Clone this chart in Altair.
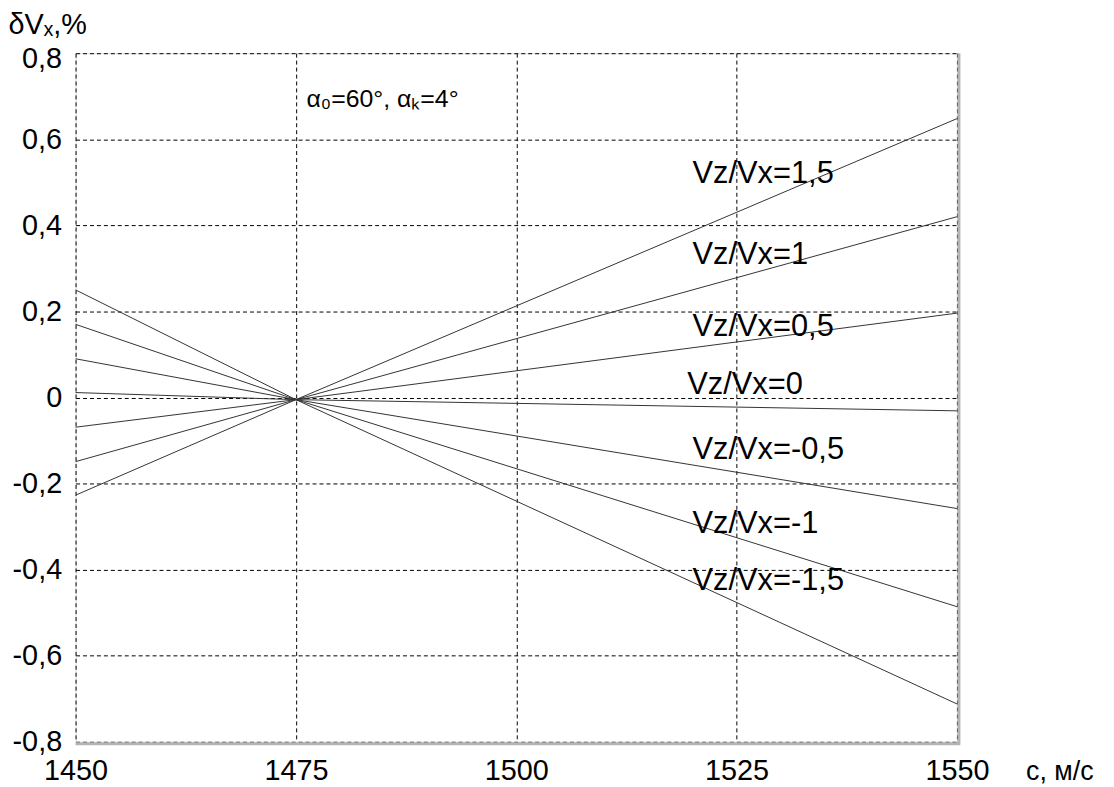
import altair as alt
import pandas as pd

ratios = [-1.5, -1, -0.5, 0, 0.5, 1, 1.5]
c_points = [1450, 1475, 1550]
v_1450 = [0.250, 0.170, 0.090, 0.0115, -0.069, -0.149, -0.227]
v_1475 = [-0.005, -0.005, -0.005, -0.005, -0.005, -0.005, -0.005]
v_1550 = [-0.712, -0.486, -0.258, -0.031, 0.196, 0.420, 0.648]

label_texts = ["Vz/Vx=-1,5", "Vz/Vx=-1", "Vz/Vx=-0,5", "Vz/Vx=0", "Vz/Vx=0,5", "Vz/Vx=1", "Vz/Vx=1,5"]
label_c = [1520.0, 1520.0, 1520.0, 1519.4, 1520.0, 1520.0, 1520.0]
label_v = [-0.426, -0.294, -0.121, 0.029, 0.163, 0.330, 0.519]

rows = []
for i, r in enumerate(ratios):
    for c, v in zip(c_points, [v_1450[i], v_1475[i], v_1550[i]]):
        rows.append({"ratio": r, "c": c, "v": v})
lines_df = pd.DataFrame(rows)
labels_df = pd.DataFrame({"text": label_texts, "c": label_c, "v": label_v})
note_df = pd.DataFrame({"text": ["α₀=60°, αₖ=4°"], "c": [1476.2], "v": [0.694]})

W, H = 887, 693
FONT = "Liberation Sans"
FS = 29

xscale = alt.Scale(domain=[1450, 1550], nice=False, zero=False)
yscale = alt.Scale(domain=[-0.8, 0.8], nice=False)

lines = alt.Chart(lines_df).mark_line(color="#333333", strokeWidth=1).encode(
    x=alt.X("c:Q", scale=xscale,
            axis=alt.Axis(values=[1450, 1475, 1500, 1525, 1550], format="d", title="c, м/с",
                          grid=True, gridColor="black", gridDash=[4, 3], gridWidth=1,
                          ticks=False, domain=False, labelFontSize=FS, labelFont=FONT,
                          labelColor="black", labelPadding=15, labelFlush=False,
                          titleFontSize=27, titleFont=FONT, titleFontWeight="normal",
                          titleColor="black", titleX=990, titleY=30, titleAlign="center",
                          titleBaseline="middle")),
    y=alt.Y("v:Q", scale=yscale,
            axis=alt.Axis(values=[-0.8, -0.6, -0.4, -0.2, 0, 0.2, 0.4, 0.6, 0.8],
                          labelExpr="datum.value == 0 ? '0' : replace(replace(format(datum.value, '.1f'), '.', ','), '\u2212', '-')",
                          title="δVₓ,%", grid=True, gridColor="black", gridDash=[4, 3],
                          gridWidth=1, ticks=False, domain=False, labelFontSize=FS,
                          labelFont=FONT, labelColor="black", labelPadding=14,
                          labelFlush=False,
                          labelOffset={"condition": {"test": "datum.value > 0.79", "value": 5}, "value": 0},
                          titleFontSize=FS, titleFont=FONT, titleFontWeight="normal",
                          titleColor="black", titleAngle=0, titleX=-68, titleY=-29,
                          titleAlign="left", titleBaseline="middle")),
    detail="ratio:N",
)

labels = alt.Chart(labels_df).mark_text(align="left", baseline="middle", fontSize=31,
                                         font=FONT, color="black").encode(
    x=alt.X("c:Q", scale=xscale), y=alt.Y("v:Q", scale=yscale), text="text:N")

note = alt.Chart(note_df).mark_text(align="left", baseline="middle", fontSize=25,
                                     font=FONT, color="black").encode(
    x=alt.X("c:Q", scale=xscale), y=alt.Y("v:Q", scale=yscale), text="text:N")

shadow_r = alt.Chart(pd.DataFrame({"a": [0]})).mark_rule(color="#b4b4b4", strokeWidth=3).encode(
    x=alt.value(W + 2), y=alt.value(0), y2=alt.value(H + 3))
shadow_b = alt.Chart(pd.DataFrame({"a": [0]})).mark_rule(color="#b4b4b4", strokeWidth=3).encode(
    x=alt.value(0), x2=alt.value(W + 3), y=alt.value(H + 2))

chart = alt.layer(lines, labels, note, shadow_r, shadow_b).properties(
    width=W, height=H,
    autosize=alt.AutoSizeParams(type="none"),
    padding={"left": 68, "top": 43, "right": 150, "bottom": 43},
).configure_view(stroke="#555555", strokeWidth=1.5).configure(background="white")

chart.save("out.html", embed_options={"renderer": "svg", "actions": False})
